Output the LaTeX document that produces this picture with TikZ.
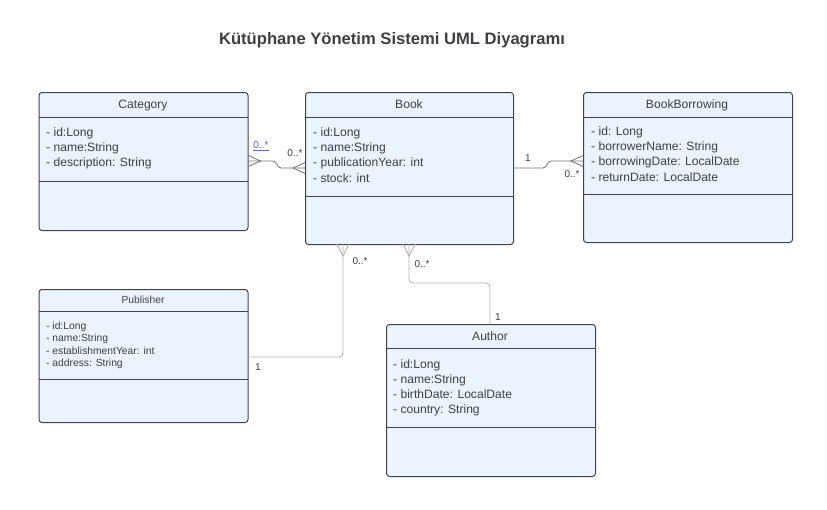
\documentclass[tikz,border=0pt]{standalone}
\usepackage{fontspec}
\setmainfont{Liberation Sans}
\usepackage{xcolor}
\usepackage{tikz}
\usetikzlibrary{positioning,calc}

\definecolor{boxfill}{HTML}{EAF3FE}
\definecolor{boxline}{HTML}{3F444A}
\definecolor{txt}{HTML}{3C4043}
\definecolor{connline}{HTML}{707479}
\definecolor{connlight}{HTML}{B2B5B8}
\definecolor{linkblue}{HTML}{5A64C8}

\tikzset{
  classbox/.style={draw=boxline, fill=boxfill, line width=1pt, rounded corners=3pt, inner sep=0pt, anchor=north west},
  divider/.style={draw=boxline, line width=0.9pt},
  classname/.style={inner sep=0pt, text=txt, text height=10.5pt, text depth=2pt, font=\fontsize{12.1}{14}\selectfont},
  attr/.style={anchor=west, inner sep=0pt, text=txt, text height=10.5pt, text depth=2pt, font=\fontsize{12.1}{14}\selectfont},
  smallname/.style={inner sep=0pt, text=txt, text height=9pt, text depth=1.7pt, font=\fontsize{10.3}{12}\selectfont},
  smallattr/.style={anchor=west, inner sep=0pt, text=txt, text height=9pt, text depth=1.7pt, font=\fontsize{10.3}{12}\selectfont},
  conn/.style={draw=connline, line width=0.8pt},
  connlt/.style={draw=connlight, line width=0.9pt, rounded corners=4pt},
  mult/.style={inner sep=0pt, text=txt, font=\fontsize{10}{12}\selectfont},
}

\begin{document}
\begin{tikzpicture}[x=1pt,y=-1pt]
  \useasboundingbox (0,0) rectangle (827,509);

  \node[font=\bfseries\fontsize{16.6}{19}\selectfont, text=txt] (title) at (392,40) {Kütüphane Yönetim Sistemi UML Diyagramı};

  % Category
  \node[classbox, minimum width=209pt, minimum height=138pt] (category) at (38.5,92) {};
  \draw[divider] (38.5,117) -- (247.5,117);
  \draw[divider] (38.5,181) -- (247.5,181);
  \node[classname] (categoryname) at (143,104) {Category};
  \foreach \a [count=\k] in {- id:Long,- name:String,- description: String} {
    \node[attr] (categoryattr\k) at (46,{132+15.3*(\k-1)}) {\a};
  }

  % Book
  \node[classbox, minimum width=208pt, minimum height=152pt] (book) at (305,92) {};
  \draw[divider] (305,117) -- (513,117);
  \draw[divider] (305,196) -- (513,196);
  \node[classname] (bookname) at (409,104) {Book};
  \foreach \a [count=\k] in {- id:Long,- name:String,- publicationYear: int,- stock: int} {
    \node[attr] (bookattr\k) at (313,{132+15.3*(\k-1)}) {\a};
  }

  % BookBorrowing
  \node[classbox, minimum width=209pt, minimum height=150pt] (borrowing) at (583,92) {};
  \draw[divider] (583,117) -- (792,117);
  \draw[divider] (583,194) -- (792,194);
  \node[classname] (borrowingname) at (687,104) {BookBorrowing};
  \foreach \a [count=\k] in {- id: Long,- borrowerName: String,- borrowingDate: LocalDate,- returnDate: LocalDate} {
    \node[attr] (borrowingattr\k) at (591,{131+15.3*(\k-1)}) {\a};
  }

  % Publisher
  \node[classbox, minimum width=209pt, minimum height=133pt] (publisher) at (38.5,289) {};
  \draw[divider] (38.5,311) -- (247.5,311);
  \draw[divider] (38.5,379) -- (247.5,379);
  \node[smallname] (publishername) at (143,300) {Publisher};
  \foreach \a [count=\k] in {- id:Long,- name:String,- establishmentYear: int,- address: String} {
    \node[smallattr] (publisherattr\k) at (46,{325.5+12.6*(\k-1)}) {\a};
  }

  % Author
  \node[classbox, minimum width=209pt, minimum height=152pt] (author) at (386,324) {};
  \draw[divider] (386,348) -- (595,348);
  \draw[divider] (386,427) -- (595,427);
  \node[classname] (authorname) at (490,336) {Author};
  \foreach \a [count=\k] in {- id:Long,- name:String,- birthDate: LocalDate,- country: String} {
    \node[attr] (authorattr\k) at (393,{364+15.1*(\k-1)}) {\a};
  }

  % connector ends
  \coordinate (catend) at (category.east |- 0,161);
  \coordinate (bookwest) at (book.west |- 0,168);
  \coordinate (bookeast) at (book.east |- 0,168);
  \coordinate (borrowwest) at (borrowing.west |- 0,161);
  \coordinate (booksouth1) at (343,244);
  \coordinate (booksouth2) at (409,244);
  \coordinate (pubeast) at (publisher.east |- 0,357);
  \coordinate (authnorth) at (490,324);

  % Category -- Book
  \draw[conn] (catend) -- (273,161) to[out=0,in=180] (281,168) -- (bookwest);
  \draw[conn] (catend) ++(0,-5.5) -- ++(12,5.5) -- ++(-12,5.5);
  \draw[conn] (bookwest) ++(0,-5.5) -- ++(-12,5.5) -- ++(12,5.5);
  \node[mult, text=linkblue] (m1) at (261,146) {\underline{0..*}};
  \node[mult] (m2) at (295,153) {0..*};

  % Book -- BookBorrowing
  \draw[conn] (bookeast) -- (543,168) to[out=0,in=180] (551,161) -- (borrowwest);
  \draw[conn] (borrowwest) ++(0,-5.5) -- ++(-12,5.5) -- ++(12,5.5);
  \node[mult] (m3) at (528,158) {1};
  \node[mult] (m4) at (572,174) {0..*};

  % Book -- Publisher
  \draw[connlt] (booksouth1) -- (booksouth1 |- pubeast) -- (pubeast);
  \draw[connlight, line width=0.9pt] (booksouth1) ++(-6,0) -- ++(6,12) -- ++(6,-12);
  \node[mult] (m5) at (360,261) {0..*};
  \node[mult] (m6) at (258,367) {1};

  % Book -- Author
  \draw[connlt] (booksouth2) -- (409,283) -- (490,283) -- (authnorth);
  \draw[connlight, line width=0.9pt] (booksouth2) ++(-6,0) -- ++(6,12) -- ++(6,-12);
  \node[mult] (m7) at (422,264) {0..*};
  \node[mult] (m8) at (498,317) {1};
\end{tikzpicture}
\end{document}
